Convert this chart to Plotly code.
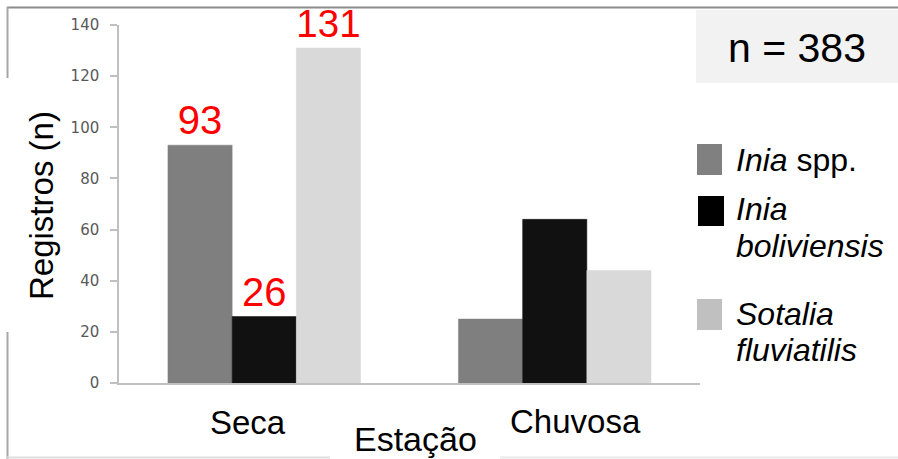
import plotly.graph_objects as go

# ---- data ----
seasons = ["Seca", "Chuvosa"]
species = ["<i>Inia</i> spp.", "<i>Inia boliviensis</i>", "<i>Sotalia fluviatilis</i>"]
inia_spp = [93, 25]
inia_boliviensis = [26, 64]
sotalia = [131, 44]
shown_labels = [True, False]  # value labels only on the "Seca" group
y_ticks = [0, 20, 40, 60, 80, 100, 120, 140]
total_n = 383

bar_colors = ["#7f7f7f", "#111111", "#d9d9d9"]
legend_colors = ["#808080", "#000000", "#c0c0c0"]

W, H = 898, 459
L, R, T, B = 119, 700, 25, 383  # plot area in pixels


def px(x):
    return (x - L) / (R - L)


def py(y):
    return (B - y) / (B - T)


FONT = "Liberation Sans, Arial, sans-serif"

fig = go.Figure()
for name, vals, col in zip(species, [inia_spp, inia_boliviensis, sotalia], bar_colors):
    fig.add_trace(go.Bar(
        x=seasons, y=vals, name=name,
        marker=dict(color=col, line=dict(color=col, width=0.5)),
        text=[str(v) if s else "" for v, s in zip(vals, shown_labels)],
        textposition="outside",
        textfont=dict(color="#ff0000", size=40, family=FONT),
        cliponaxis=False,
        showlegend=False,
    ))

fig.update_layout(
    width=W, height=H,
    margin=dict(l=L, r=W - R, t=T, b=H - B, pad=0),
    paper_bgcolor="white", plot_bgcolor="white",
    barmode="group", bargap=0.337, bargroupgap=0,
    showlegend=False,
    xaxis=dict(
        range=[-0.5, 1.5], showticklabels=False, showgrid=False, zeroline=False,
        showline=True, linecolor="#c0c0c0", linewidth=1.5, ticks="",
    ),
    yaxis=dict(
        range=[0, 140], tickvals=y_ticks, showgrid=False, zeroline=False,
        showline=True, linecolor="#c0c0c0", linewidth=1.5,
        ticks="outside", ticklen=7, tickcolor="#c0c0c0", tickwidth=1.5,
        tickfont=dict(size=15, color="#595959", family="DejaVu Sans, sans-serif"),
        ticklabelstandoff=8,
    ),
)

shapes = []
# decorative frame fragments
frame = "#a6a6a6"
shapes.append(dict(type="line", xref="paper", yref="paper", x0=px(7), x1=px(898), y0=py(7.5), y1=py(7.5),
                   line=dict(color="#8c8c8c", width=2)))
shapes.append(dict(type="line", xref="paper", yref="paper", x0=px(7.5), x1=px(7.5), y0=py(7), y1=py(78),
                   line=dict(color=frame, width=2)))
shapes.append(dict(type="line", xref="paper", yref="paper", x0=px(7.5), x1=px(7.5), y0=py(332), y1=py(459),
                   line=dict(color=frame, width=2)))
shapes.append(dict(type="line", xref="paper", yref="paper", x0=px(7), x1=px(330), y0=py(457.5), y1=py(457.5),
                   line=dict(color="#dddddd", width=2)))
shapes.append(dict(type="line", xref="paper", yref="paper", x0=px(500), x1=px(898), y0=py(457.5), y1=py(457.5),
                   line=dict(color="#e8e8e8", width=2)))
# n box
shapes.append(dict(type="rect", xref="paper", yref="paper", x0=px(696), x1=px(898), y0=py(10), y1=py(83),
                   fillcolor="#f2f2f2", line=dict(width=0), layer="below"))
# legend squares
sq = [(697, 722, 144, 175), (698, 724, 196, 226), (697, 722, 299, 330)]
for (x0, x1, y0, y1), c in zip(sq, legend_colors):
    shapes.append(dict(type="rect", xref="paper", yref="paper", x0=px(x0), x1=px(x1), y0=py(y0), y1=py(y1),
                       fillcolor=c, line=dict(width=0)))
fig.update_layout(shapes=shapes)

ann = []
# category labels
for cat, shift, yc in [(seasons[0], -16, 422), (seasons[1], 21, 421)]:
    ann.append(dict(x=cat, xref="x", xshift=shift, y=py(yc), yref="paper", text=cat, showarrow=False,
                    xanchor="center", yanchor="middle", font=dict(size=33, color="black", family=FONT)))
# axis titles
ann.append(dict(x=px(415), y=py(439), xref="paper", yref="paper", text="Estação", showarrow=False,
                xanchor="center", yanchor="middle", font=dict(size=34, color="black", family=FONT)))
ann.append(dict(x=px(41), y=py(206), xref="paper", yref="paper", text="Registros (n)", showarrow=False,
                textangle=-90, xanchor="center", yanchor="middle",
                font=dict(size=33, color="black", family=FONT)))
# n label
ann.append(dict(x=px(797), y=py(48), xref="paper", yref="paper", text=f"n = {total_n}", showarrow=False,
                xanchor="center", yanchor="middle", font=dict(size=41, color="black", family=FONT)))
# legend text
leg_lines = [("<i>Inia</i> spp.", 160), ("<i>Inia</i>", 209), ("<i>boliviensis</i>", 246),
             ("<i>Sotalia</i>", 314), ("<i>fluviatilis</i>", 350)]
for txt, yc in leg_lines:
    ann.append(dict(x=px(734), y=py(yc), xref="paper", yref="paper", text=txt, showarrow=False,
                    xanchor="left", yanchor="middle", font=dict(size=32, color="black", family=FONT)))
fig.update_layout(annotations=ann)

fig.write_html(
    "out.html",
    config={"displayModeBar": False},
    post_script="document.body.style.margin='0';document.body.style.overflow='hidden';",
)
